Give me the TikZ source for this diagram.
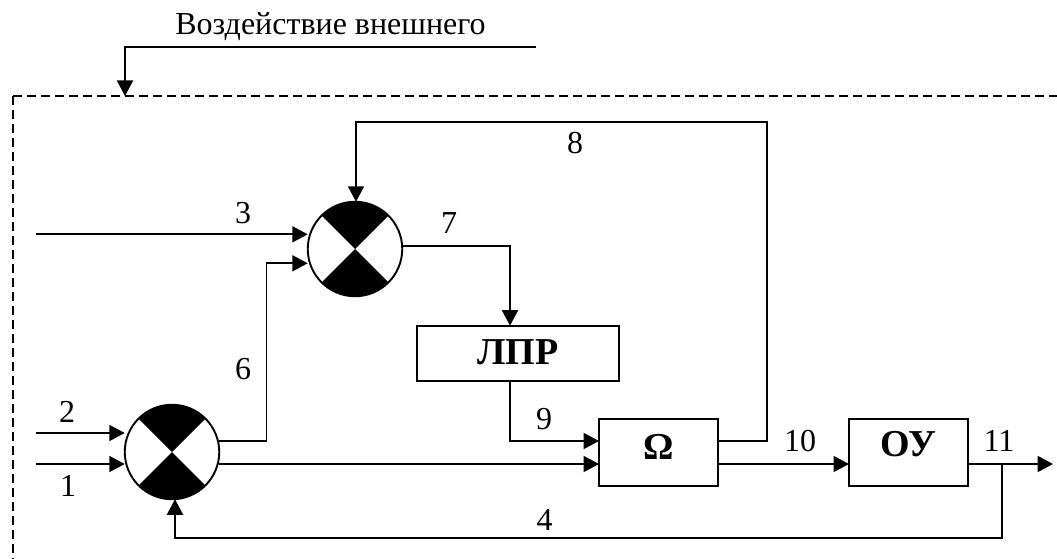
\documentclass[tikz,border=0pt]{standalone}
\usepackage{fontspec}
\setmainfont{Liberation Serif}
\usetikzlibrary{arrows.meta}
\tikzset{
  x=1pt,y=-1pt,
  line/.style={line width=1.9pt,line join=miter},
  arr/.style={line,-{Triangle[length=15.5pt,width=16pt]}},
  frame/.style={line width=1.9pt,dash pattern=on 9pt off 5pt},
  sum/.style={circle,draw,line width=1.9pt,minimum size=94.5pt,inner sep=0pt,outer sep=0pt},
  block/.style={draw,line width=1.9pt,inner sep=0pt,outer sep=0pt,font=\fontsize{38}{40}\selectfont\bfseries},
  lab/.style={inner sep=0pt,font=\fontsize{32}{34}\selectfont},
}
\begin{document}
\begin{tikzpicture}
\useasboundingbox[fill=white] (0,0) rectangle (1057,559);
% frame
\draw[frame] (13,96) -- (1057,96);
\draw[frame] (13,96) -- (13,559);
% nodes
\node[sum] (c1) at (172,452) {};
\node[sum] (c2) at (355,249) {};
\foreach \c in {c1,c2}{
  \fill (\c.center) -- (\c.45) arc[start angle=45,end angle=135,radius=47.25pt] -- cycle;
  \fill (\c.center) -- (\c.225) arc[start angle=225,end angle=315,radius=47.25pt] -- cycle;
}
\node[block,minimum width=202pt,minimum height=55.3pt] (lpr) at (518,353.3) {\smash{\raisebox{-10.7pt}{ЛПР}}};
\node[block,minimum width=119pt,minimum height=67.6pt] (om) at (658.5,452.5) {\smash{\raisebox{-6.8pt}{Ω}}};
\node[block,minimum width=119pt,minimum height=67.6pt] (ou) at (908.5,452.5) {\smash{\raisebox{-4.2pt}{ОУ}}};
% free ends
\coordinate (extS) at (536,47);
\coordinate (extC) at (125,47);
\coordinate (extE) at (125,96);
\coordinate (in3) at (36,234.3);
\coordinate (in2) at (36,433);
\coordinate (in1) at (36,464);
\coordinate (out) at (1053,464);
\coordinate (branch) at (1002,464);
% connectors
\draw[arr] (extS) -- (extC) -- (extE);
\draw[arr] (in3) -- (c2.west |- in3);
\draw[arr] (in2) -- (c1.west |- in2);
\draw[arr] (in1) -- (c1.west |- in1);
\draw[arr] (c1.east |- 0,441) -- (266.5,441) -- (266.5,263.3) -- (c2.west |- 0,263.3);
\draw[arr] (c1.east |- in1) -- (om.west |- in1);
\draw[arr] (c2.east |- 0,245.7) -- (510,245.7) -- (lpr.north -| 510,0);
\draw[arr] (lpr.south -| 510,0) -- (510,441) -- (om.west |- 0,441);
\draw[arr] (om.east |- 0,441) -- (767,441) -- (767,122.3) -- (356,122.3) -- (c2.north -| 356,0);
\draw[arr] (om.east |- in1) -- (ou.west |- in1);
\draw[arr] (ou.east |- out) -- (out);
\draw[arr] (branch) -- (1002,538.3) -- (175,538.3) -- (c1.south -| 175,0);
% labels
\node[lab,anchor=base] (tExt) at (330.5,35) {Воздействие внешнего};
\node[lab] (t3) at (243,213) {3};
\node[lab] (t7) at (449,223) {7};
\node[lab] (t8) at (575,143.3) {8};
\node[lab] (t6) at (243,369) {6};
\node[lab] (t2) at (67,412) {2};
\node[lab] (t1) at (68,486) {1};
\node[lab] (t4) at (544.5,520) {4};
\node[lab] (t9) at (544,419) {9};
\node[lab] (t10) at (800,441) {10};
\node[lab] (t11) at (999,441) {11};
\end{tikzpicture}
\end{document}
